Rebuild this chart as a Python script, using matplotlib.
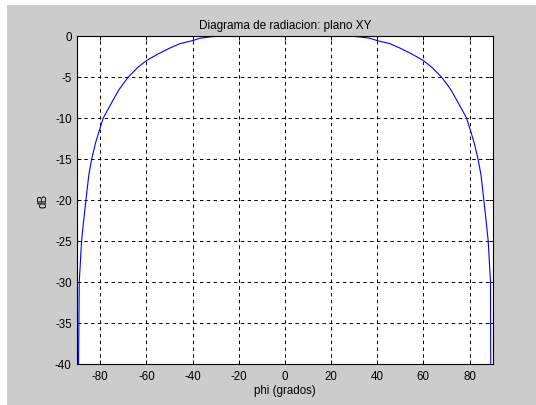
import matplotlib
matplotlib.use('Agg')
import matplotlib.pyplot as plt
from matplotlib.patches import Rectangle

plt.rcParams['font.family'] = ['Liberation Sans', 'DejaVu Sans']
plt.rcParams['axes.unicode_minus'] = False

# values (phi in degrees, gain in dB)
phi = [-89.45, -89.4, -89.1, -88.1, -87.3, -86.2, -85.0, -83.7, -82.0, -80.6,
       -78.7, -75.0, -72.0, -70.0, -67.8, -64.0, -60.0, -55.0, -50.0, -45.5,
       -40.0, -36.8, -32.0, -27.0,
       0.0,
       27.0, 32.0, 36.8, 40.0, 45.5, 50.0, 55.0, 60.0, 64.0, 67.8,
       70.0, 72.0, 75.0, 78.7, 80.6, 82.0, 83.7, 85.0, 86.2, 87.3,
       88.1, 89.1, 89.2, 89.25]
db = [-45.0, -40.0, -30.0, -25.0, -22.8, -20.0, -17.0, -15.0, -13.0, -11.7,
      -10.0, -8.1, -6.6, -5.8, -5.0, -3.9, -3.0, -2.2, -1.5, -0.94,
      -0.57, -0.28, -0.1, 0.0,
      0.0,
      0.0, -0.1, -0.28, -0.57, -0.94, -1.5, -2.2, -3.0, -3.9, -5.0,
      -5.8, -6.6, -8.1, -10.0, -11.7, -13.0, -15.0, -17.0, -20.0, -22.8,
      -25.0, -30.0, -40.0, -45.0]

xticks = [-80, -60, -40, -20, 0, 20, 40, 60, 80]
yticks = [0, -5, -10, -15, -20, -25, -30, -35, -40]

fig = plt.figure(figsize=(5.36, 4.06), dpi=100, facecolor='#cccccc')
# white screenshot border at top and left
fig.add_artist(Rectangle((0, 0), 7 / 536, 1, transform=fig.transFigure,
                         facecolor='white', edgecolor='none'))
fig.add_artist(Rectangle((0, 1 - 6 / 406), 1, 6 / 406, transform=fig.transFigure,
                         facecolor='white', edgecolor='none'))

ax = fig.add_axes([0.144, 0.101, 0.775, 0.808])
ax.set_facecolor('white')
ax.plot(phi, db, color='#0000ff', linewidth=0.8)

ax.set_xlim(-90, 90)
ax.set_ylim(-40, 0)
ax.set_xticks(xticks)
ax.set_yticks(yticks)
ax.grid(True, color='black', linestyle=(0, (3.5, 3.5)), linewidth=0.7)
ax.tick_params(direction='in', top=True, right=True, length=3, width=0.7,
               labelsize=8.3, colors='black', pad=4)
for s in ax.spines.values():
    s.set_linewidth(0.8)

ax.set_title('Diagrama de radiacion: plano XY', fontsize=8.5, pad=6)
ax.set_xlabel('phi (grados)', fontsize=8.3, labelpad=2)
ax.set_ylabel('dB', fontsize=8.3, labelpad=4)

fig.savefig('out.png', dpi=100, facecolor=fig.get_facecolor())
